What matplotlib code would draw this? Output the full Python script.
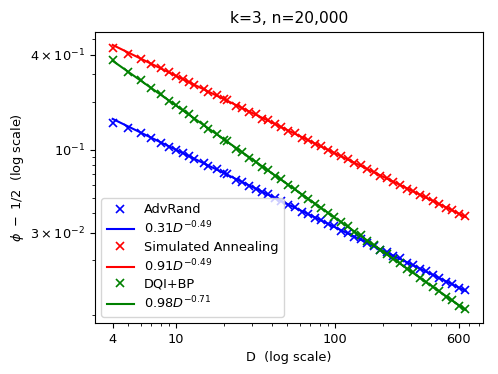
import matplotlib
matplotlib.use("Agg")
import matplotlib.pyplot as plt
import numpy as np
from matplotlib.ticker import NullFormatter, FixedLocator, FixedFormatter

plt.rcParams["font.size"] = 9.3

D = [4, 5, 6, 7, 8, 9, 10, 11, 12, 13, 15, 16, 18, 20, 21, 24, 26, 29, 32, 35,
     38, 42, 46, 51, 56, 62, 68, 75, 82, 90, 99, 109, 120, 132, 145, 160, 176,
     193, 212, 233, 257, 282, 310, 341, 375, 412, 453, 498, 547, 601, 660]

advrand = [0.149, 0.138, 0.128, 0.119, 0.111, 0.105, 0.0995, 0.0952, 0.0915, 0.0880,
           0.0825, 0.0795, 0.0755, 0.0712, 0.0700, 0.0650, 0.0630, 0.0593, 0.0568, 0.0541,
           0.0523, 0.0495, 0.0477, 0.0449, 0.0433, 0.0408, 0.0394, 0.0372, 0.0360, 0.0340,
           0.0328, 0.0309, 0.0299, 0.0282, 0.0272, 0.0257, 0.0247, 0.0234, 0.0226, 0.0214,
           0.0206, 0.0194, 0.0187, 0.0177, 0.0171, 0.0161, 0.0156, 0.0147, 0.0142, 0.0134,
           0.0130]

sim_ann = [0.440, 0.405, 0.375, 0.350, 0.328, 0.309, 0.294, 0.280, 0.270, 0.258,
           0.242, 0.233, 0.222, 0.209, 0.206, 0.191, 0.185, 0.174, 0.168, 0.158,
           0.154, 0.145, 0.140, 0.131, 0.128, 0.119, 0.116, 0.109, 0.106, 0.0995,
           0.0962, 0.0910, 0.0876, 0.0828, 0.0798, 0.0753, 0.0727, 0.0688, 0.0663, 0.0627,
           0.0604, 0.0570, 0.0550, 0.0519, 0.0501, 0.0473, 0.0456, 0.0431, 0.0416, 0.0394,
           0.0380]

dqi_bp = [0.368, 0.312, 0.276, 0.245, 0.225, 0.205, 0.192, 0.178, 0.169, 0.158,
          0.144, 0.136, 0.127, 0.116, 0.114, 0.102, 0.0975, 0.0892, 0.0842, 0.0781,
          0.0745, 0.0686, 0.0651, 0.0598, 0.0565, 0.0520, 0.0493, 0.0455, 0.0431, 0.0400,
          0.0377, 0.0349, 0.0329, 0.0304, 0.0288, 0.0265, 0.0250, 0.0232, 0.0219, 0.0203,
          0.0192, 0.0177, 0.0168, 0.0155, 0.0147, 0.0135, 0.0128, 0.0118, 0.0113, 0.0103,
          0.0098]

# fit parameters (coefficient, exponent)
fit_adv = (0.31, -0.49)
fit_sa = (0.91, -0.49)
fit_dqi = (0.98, -0.71)

series = [
    ("AdvRand", advrand, fit_adv, "blue"),
    ("Simulated Annealing", sim_ann, fit_sa, "red"),
    ("DQI+BP", dqi_bp, fit_dqi, "green"),
]

x_ticks = [4, 10, 100, 600]
x_ticklabels = ["4", "10", "100", "600"]
y_ticks = [0.03, 0.1, 0.4]
y_ticklabels = [r"$3\times10^{-2}$", r"$10^{-1}$", r"$4\times10^{-1}$"]

fig = plt.figure(figsize=(4.98, 3.74), dpi=100)
ax = fig.add_axes([95 / 498, 1 - 323 / 374, (483 - 95) / 498, (323 - 31.7) / 374])

Darr = np.array(D, dtype=float)
for name, ys, (c, e), col in series:
    ax.plot(D, ys, linestyle="none", marker="x", color=col, markersize=5.5,
            markeredgewidth=1.2, label=name)
    ax.plot(Darr, c * Darr ** e, color=col, label=rf"${c:.2f}D^{{{e:.2f}}}$")

ax.set_xscale("log")
ax.set_yscale("log")
ax.xaxis.set_major_locator(FixedLocator(x_ticks))
ax.xaxis.set_major_formatter(FixedFormatter(x_ticklabels))
ax.xaxis.set_minor_formatter(NullFormatter())
ax.yaxis.set_major_locator(FixedLocator(y_ticks))
ax.yaxis.set_major_formatter(FixedFormatter(y_ticklabels))
ax.yaxis.set_minor_formatter(NullFormatter())

ax.set_xlabel("D  (log scale)")
ax.set_ylabel(r"$\phi\ -\ 1/2$  (log scale)", labelpad=3)
ax.set_title("k=3, n=20,000")
ax.legend(loc="lower left", labelspacing=0.3, handlelength=2.1)

fig.savefig("out.png", dpi=100)
